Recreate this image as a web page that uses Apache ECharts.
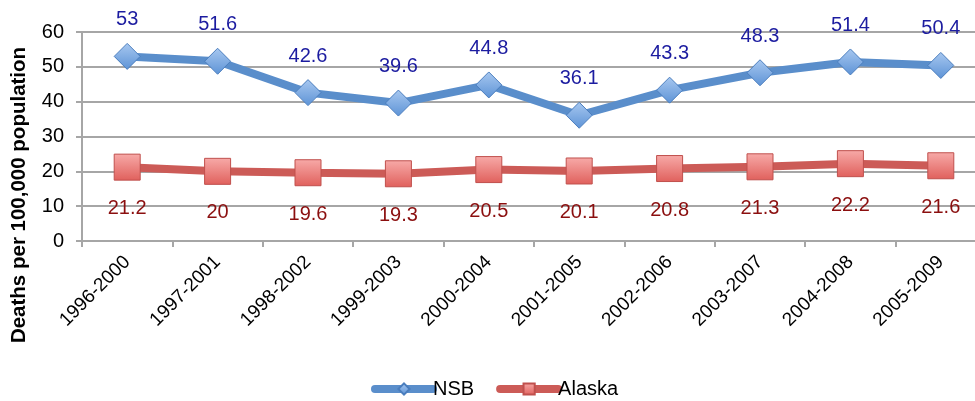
<!DOCTYPE html>
<html><head><meta charset="utf-8">
<script src="https://cdn.jsdelivr.net/npm/echarts@6/dist/echarts.min.js"></script>
<style>html,body{margin:0;padding:0;background:#fff;overflow:hidden;width:975px;height:401px}#c{width:986px;height:401px}</style>
</head><body><div id="c"></div>
<script>
var categories = ['1996-2000','1997-2001','1998-2002','1999-2003','2000-2004','2001-2005','2002-2006','2003-2007','2004-2008','2005-2009'];
var nsb = [53, 51.6, 42.6, 39.6, 44.8, 36.1, 43.3, 48.3, 51.4, 50.4];
var alaska = [21.2, 20, 19.6, 19.3, 20.5, 20.1, 20.8, 21.3, 22.2, 21.6];
var yTicks = {min: 0, max: 60, interval: 10};

var chart = echarts.init(document.getElementById('c'));
var font = 'Liberation Sans, Arial, sans-serif';
chart.setOption({
  animation: false,
  grid: {left: 82, right: 0, top: 32, bottom: 160},
  graphic: [{
    type: 'text', x: 19, y: 195, rotation: Math.PI / 2,
    style: {text: 'Deaths per 100,000 population', font: 'bold 20.5px ' + font, fill: '#000',
            align: 'center', verticalAlign: 'middle'}
  }],
  legend: {
    left: 366, top: 374, itemWidth: 58, itemHeight: 14, itemGap: 22,
    lineStyle: {width: 8, cap: 'round'},
    textStyle: {fontFamily: font, fontSize: 20, color: '#000', padding: [0, 0, 0, -5]},
    data: ['NSB', 'Alaska']
  },
  xAxis: {
    type: 'category', data: categories, boundaryGap: true,
    axisLine: {lineStyle: {color: '#a6a6a6', width: 2}},
    axisTick: {show: true, length: 6, lineStyle: {color: '#a6a6a6', width: 2}},
    axisLabel: {rotate: 45, fontFamily: font, fontSize: 19, color: '#000', margin: 18}
  },
  yAxis: {
    type: 'value', min: yTicks.min, max: yTicks.max, interval: yTicks.interval,
    axisLine: {show: true, lineStyle: {color: '#a6a6a6', width: 2}},
    axisTick: {show: true, length: 6, lineStyle: {color: '#a6a6a6', width: 2}},
    axisLabel: {fontFamily: font, fontSize: 20, color: '#000', margin: 18},
    splitLine: {lineStyle: {color: '#a6a6a6', width: 2}}
  },
  series: [
    {
      name: 'NSB', type: 'line', data: nsb,
      symbol: 'diamond', symbolSize: 26,
      lineStyle: {color: '#5a8ecb', width: 8, cap: 'round'},
      itemStyle: {
        color: new echarts.graphic.LinearGradient(0,0,0,1,[{offset:0,color:'#a8c8f0'},{offset:1,color:'#5d93d6'}]),
        borderColor: '#4a7dbd', borderWidth: 1
      },
      label: {show: true, position: 'top', distance: 13, fontFamily: font, fontSize: 20, color: '#1c1ca0'},
      z: 3
    },
    {
      name: 'Alaska', type: 'line', data: alaska,
      symbol: 'rect', symbolSize: 26,
      lineStyle: {color: '#cc5b57', width: 8, cap: 'round'},
      itemStyle: {
        color: new echarts.graphic.LinearGradient(0,0,0,1,[{offset:0,color:'#f7aaa8'},{offset:1,color:'#e0605c'}]),
        borderColor: '#c0504d', borderWidth: 1
      },
      label: {show: true, position: 'bottom', distance: 18, fontFamily: font, fontSize: 20, color: '#8b0f0f'},
      z: 2
    }
  ]
});
</script></body></html>
